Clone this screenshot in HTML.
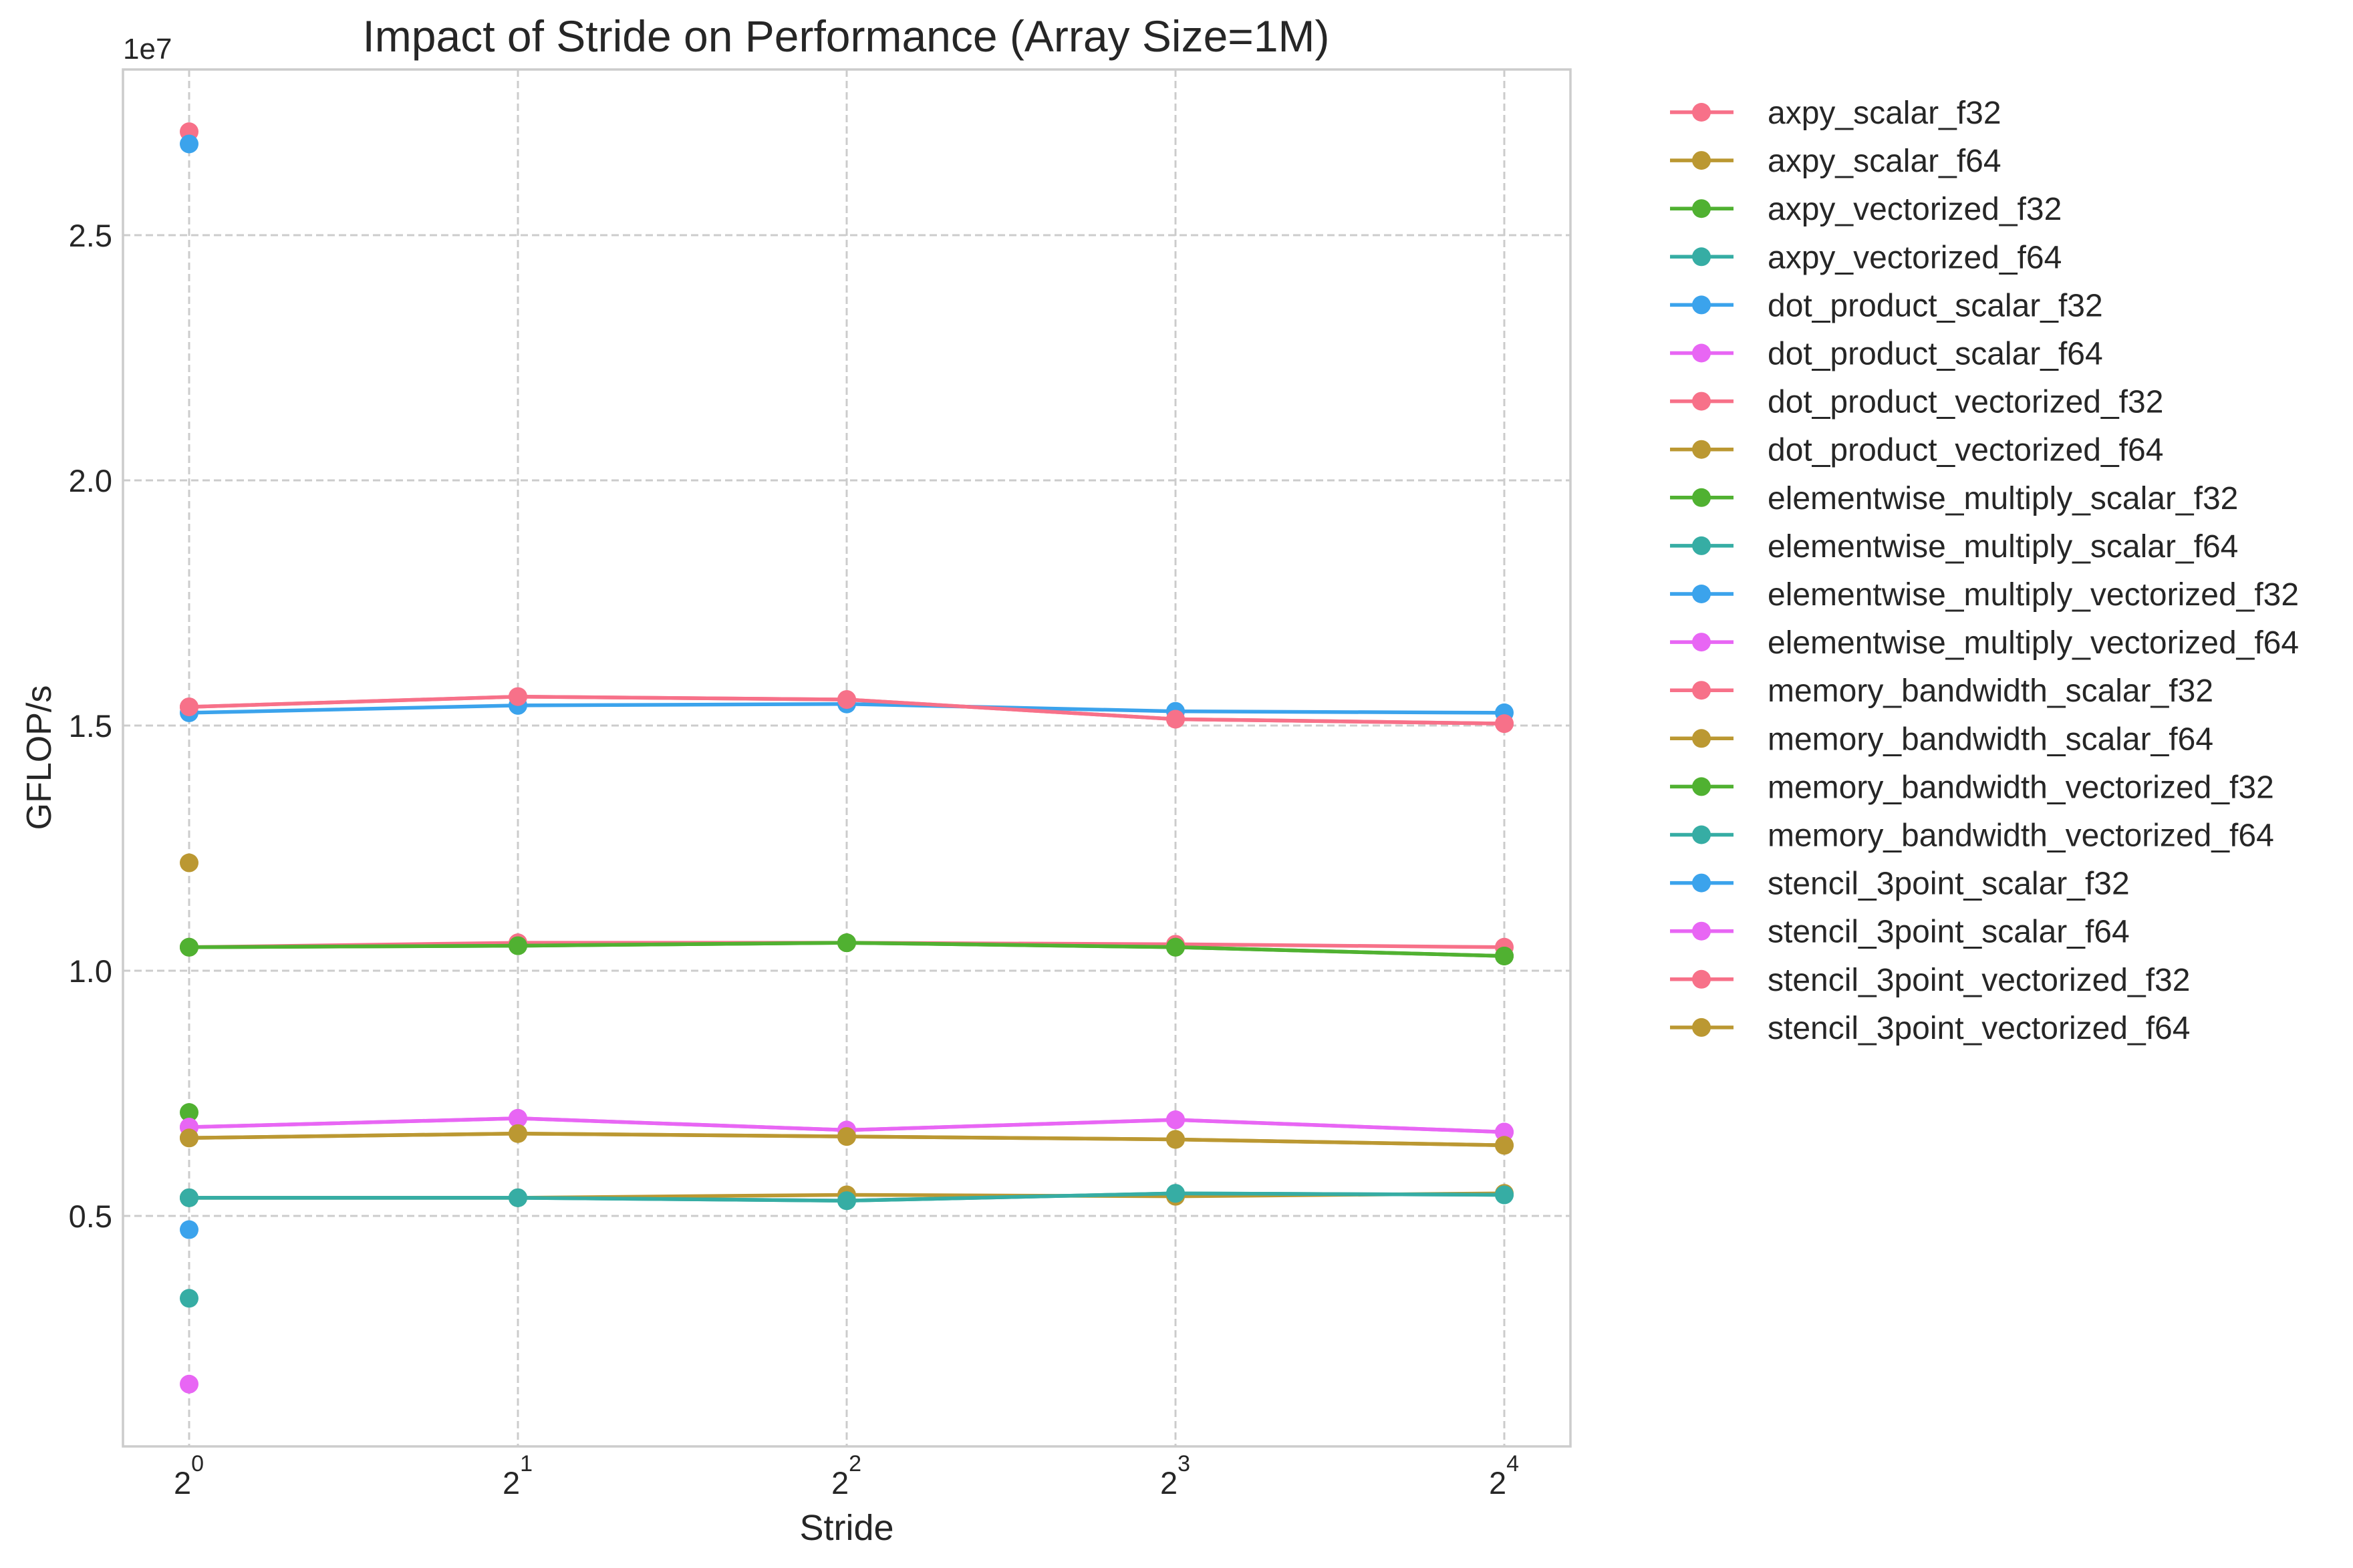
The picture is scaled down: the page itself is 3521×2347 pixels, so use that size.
<!DOCTYPE html>
<html><head><meta charset="utf-8"><style>
html,body{margin:0;padding:0;background:#fff;}
svg{display:block;font-family:"Liberation Sans","DejaVu Sans",sans-serif;}
</style></head><body>
<svg id="chart" width="3521" height="2347" viewBox="0 0 3521 2347" xmlns="http://www.w3.org/2000/svg">
<rect width="3521" height="2347" fill="#fff"/>
<g id="grid"></g>
<g id="series"></g>
<rect x="184" y="104" width="2166" height="2061" fill="none" stroke="#cccccc" stroke-width="3.5"/>
<g id="ticks"></g>
<text x="1266" y="77" text-anchor="middle" font-size="66" fill="#262626">Impact of Stride on Performance (Array Size=1M)</text>
<text x="184" y="88" font-size="44" fill="#262626">1e7</text>
<text x="1267" y="2305" text-anchor="middle" font-size="54" fill="#262626">Stride</text>
<text x="0" y="0" transform="translate(76,1134) rotate(-90)" text-anchor="middle" font-size="52" fill="#262626">GFLOP/s</text>
<g id="legend"></g>
</svg>
<script>
const strides = [0, 1, 2, 3, 4];
const yTicks = [0.5, 1.0, 1.5, 2.0, 2.5];
const yTickLabels = ["0.5", "1.0", "1.5", "2.0", "2.5"];
const seriesNames = ["axpy_scalar_f32","axpy_scalar_f64","axpy_vectorized_f32","axpy_vectorized_f64","dot_product_scalar_f32","dot_product_scalar_f64","dot_product_vectorized_f32","dot_product_vectorized_f64","elementwise_multiply_scalar_f32","elementwise_multiply_scalar_f64","elementwise_multiply_vectorized_f32","elementwise_multiply_vectorized_f64","memory_bandwidth_scalar_f32","memory_bandwidth_scalar_f64","memory_bandwidth_vectorized_f32","memory_bandwidth_vectorized_f64","stencil_3point_scalar_f32","stencil_3point_scalar_f64","stencil_3point_vectorized_f32","stencil_3point_vectorized_f64"];
const palette = ["#f77189","#bb9832","#50b131","#36ada4","#3ba3ec","#e866f4"];
const s00 = [1.048,1.057,1.057,1.054,1.048];
const s01 = [0.537,0.537,0.543,0.540,0.546];
const s02 = [1.048,1.051,1.057,1.048,1.030];
const s03 = [0.537,0.537,0.531,0.546,0.543];
const s04 = [0.472];
const s05 = [0.157];
const s06 = [2.711];
const s07 = [1.220];
const s08 = [0.711];
const s09 = [0.332];
const s10 = [2.686];
const s11 = [0.681,0.699,0.675,0.696,0.671];
const s12 = [1.538,1.559,1.553,1.513,1.504];
const s13 = [0.659,0.668,0.662,0.656,0.644];
const s14 = [1.048,1.051,1.057,1.048,1.030];
const s15 = [0.537,0.537,0.531,0.546,0.543];
const s16 = [1.526,1.541,1.544,1.529,1.526];
const s17 = [0.681,0.699,0.675,0.696,0.671];
const s18 = [1.538,1.559,1.553,1.513,1.504];
const s19 = [0.659,0.668,0.662,0.656,0.644];
const seriesValues = [s00,s01,s02,s03,s04,s05,s06,s07,s08,s09,s10,s11,s12,s13,s14,s15,s16,s17,s18,s19];

const NS = "http://www.w3.org/2000/svg";
const xScale = i => 283 + i * 492;
const yScale = v => 1820 - (v - 0.5) * 734;
function mk(tag, attrs, parent){const e=document.createElementNS(NS,tag);for(const k in attrs)e.setAttribute(k,attrs[k]);parent.appendChild(e);return e;}

const grid=document.getElementById('grid'), ticks=document.getElementById('ticks');
strides.forEach((s,i)=>{
  const g=mk('line',{x1:xScale(s),x2:xScale(s),y1:104,y2:2165,stroke:'#cccccc','stroke-width':3,'stroke-dasharray':'11,6'},grid);
  
  
  const t=mk('text',{x:xScale(s)-23,y:2236,'font-size':47,fill:'#262626'},ticks);
  
  
  t.textContent='2';
  const sup=mk('tspan',{dy:-34,'font-size':34},t);
  sup.textContent=String(s);
});
yTicks.forEach((v,i)=>{
  const g=mk('line',{x1:184,x2:2350,y1:yScale(v),y2:yScale(v),stroke:'#cccccc','stroke-width':3,'stroke-dasharray':'11,6'},grid);
  
  
  const t=mk('text',{x:168,y:yScale(v)+17,'text-anchor':'end','font-size':47,fill:'#262626'},ticks);
  
  
  t.textContent=yTickLabels[i];
});

const sg=document.getElementById('series'), lg=document.getElementById('legend');
seriesValues.forEach((vals,k)=>{
  const col=palette[k%6];
  const g=mk('g',{},sg);
  
  
  if(vals.length>1){
    const p=mk('polyline',{points:vals.map((v,i)=>xScale(strides[i])+','+yScale(v)).join(' '),fill:'none',stroke:col,'stroke-width':5.5,'stroke-linejoin':'round'},g);
    
    
  }
  vals.forEach((v,i)=>{
    const c=mk('circle',{cx:xScale(strides[i]),cy:yScale(v),r:14,fill:col},g);
    
    
  });
  const y=168+k*72.1;
  const e=mk('g',{},lg);
  
  
  mk('line',{x1:2499,x2:2594,y1:y,y2:y,stroke:col,'stroke-width':5.5},e);
  mk('circle',{cx:2546,cy:y,r:14,fill:col},e);
  const t=mk('text',{x:2645,y:y+17,'font-size':48,fill:'#262626'},e);
  t.textContent=seriesNames[k];
});
</script>
</body></html>
